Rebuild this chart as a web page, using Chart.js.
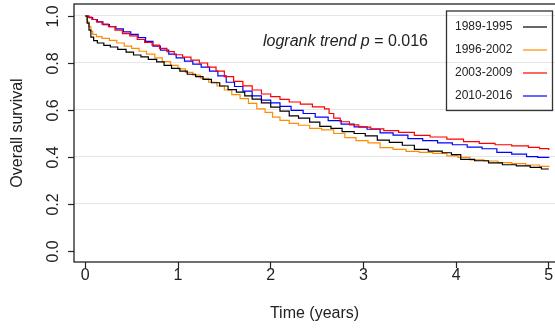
<!DOCTYPE html>
<html>
<head>
<meta charset="utf-8">
<script src="https://cdn.jsdelivr.net/npm/chart.js@4.4.1/dist/chart.umd.min.js"></script>
<style>
  html, body { margin: 0; padding: 0; background: #fff; overflow: hidden; }
  canvas { display: block; }
</style>
</head>
<body>
<canvas id="survChart" width="555" height="328"></canvas>
<script>
// Kaplan-Meier estimates by diagnosis period (time in years, survival proportion)
const periods = ['1989-1995', '1996-2002', '2003-2009', '2010-2016'];
const periodColors = ['#000000', '#ff8c00', '#ff0000', '#0000ff'];

const time8995 = [0, 0.02, 0.04, 0.06, 0.09, 0.13, 0.2, 0.27, 0.35, 0.44, 0.52, 0.6, 0.68, 0.77, 0.85, 0.93,
  1.02, 1.1, 1.19, 1.27, 1.36, 1.45, 1.54, 1.63, 1.72, 1.8, 1.9, 2.0, 2.1, 2.2, 2.3, 2.42, 2.53, 2.65, 2.77,
  2.9, 3.02, 3.15, 3.28, 3.42, 3.55, 3.7, 3.85, 3.95, 4.05, 4.2, 4.35, 4.5, 4.65, 4.8, 4.92, 5.0];
const surv8995 = [1, 0.97, 0.94, 0.91, 0.895, 0.885, 0.875, 0.868, 0.858, 0.846, 0.834, 0.826, 0.815, 0.805, 0.79, 0.777,
  0.765, 0.752, 0.742, 0.73, 0.716, 0.702, 0.687, 0.676, 0.66, 0.646, 0.63, 0.612, 0.595, 0.575, 0.565, 0.548, 0.53, 0.522, 0.508,
  0.5, 0.49, 0.472, 0.462, 0.45, 0.432, 0.425, 0.418, 0.41, 0.39, 0.384, 0.375, 0.367, 0.362, 0.356, 0.349, 0.349];

const time9602 = [0, 0.02, 0.04, 0.06, 0.08, 0.12, 0.18, 0.26, 0.34, 0.42, 0.5, 0.58, 0.66, 0.75, 0.83, 0.92,
  1.0, 1.08, 1.16, 1.24, 1.33, 1.42, 1.5, 1.58, 1.67, 1.76, 1.85, 1.94, 2.02, 2.1, 2.2, 2.3, 2.42, 2.55, 2.68,
  2.8, 2.92, 3.05, 3.18, 3.32, 3.46, 3.6, 3.75, 3.9, 4.02, 4.15, 4.3, 4.45, 4.6, 4.75, 4.9, 5.0];
const surv9602 = [1, 0.975, 0.955, 0.935, 0.922, 0.912, 0.905, 0.896, 0.885, 0.872, 0.862, 0.85, 0.838, 0.822, 0.806, 0.79,
  0.775, 0.76, 0.748, 0.735, 0.718, 0.702, 0.685, 0.665, 0.648, 0.628, 0.605, 0.59, 0.57, 0.556, 0.543, 0.535, 0.522, 0.515, 0.5,
  0.482, 0.47, 0.46, 0.44, 0.432, 0.424, 0.42, 0.415, 0.405, 0.398, 0.388, 0.383, 0.376, 0.372, 0.366, 0.36, 0.356];

const time0309 = [0, 0.03, 0.07, 0.12, 0.18, 0.25, 0.32, 0.4, 0.48, 0.56, 0.64, 0.72, 0.8, 0.88, 0.96,
  1.05, 1.14, 1.23, 1.32, 1.41, 1.5, 1.6, 1.7, 1.8, 1.9, 2.0, 2.1, 2.2, 2.32, 2.45, 2.58, 2.63, 2.68, 2.75,
  2.85, 2.95, 3.08, 3.22, 3.38, 3.55, 3.72, 3.9, 4.08, 4.25, 4.42, 4.6, 4.78, 4.9, 5.0];
const surv0309 = [1, 0.995, 0.985, 0.975, 0.965, 0.955, 0.94, 0.925, 0.915, 0.9, 0.888, 0.876, 0.862, 0.848, 0.835,
  0.825, 0.812, 0.8, 0.782, 0.765, 0.742, 0.722, 0.703, 0.685, 0.668, 0.657, 0.645, 0.634, 0.625, 0.613, 0.605, 0.585, 0.565, 0.55,
  0.537, 0.527, 0.52, 0.512, 0.505, 0.492, 0.485, 0.476, 0.465, 0.458, 0.452, 0.447, 0.441, 0.436, 0.43];

const time1016 = [0, 0.04, 0.08, 0.13, 0.19, 0.26, 0.33, 0.41, 0.49, 0.57, 0.65, 0.73, 0.81, 0.9, 0.98,
  1.07, 1.16, 1.25, 1.34, 1.43, 1.52, 1.61, 1.7, 1.8, 1.9, 2.0, 2.1, 2.22, 2.35, 2.48, 2.62, 2.76,
  2.9, 3.04, 3.18, 3.32, 3.48, 3.64, 3.8, 3.96, 4.12, 4.28, 4.44, 4.6, 4.76, 4.88, 5.0];
const surv1016 = [1, 0.993, 0.985, 0.975, 0.963, 0.955, 0.945, 0.932, 0.922, 0.908, 0.892, 0.872, 0.855, 0.838, 0.822,
  0.808, 0.795, 0.782, 0.765, 0.745, 0.718, 0.7, 0.68, 0.66, 0.642, 0.63, 0.615, 0.598, 0.585, 0.57, 0.555, 0.54,
  0.528, 0.518, 0.503, 0.493, 0.478, 0.47, 0.46, 0.452, 0.442, 0.435, 0.42, 0.412, 0.402, 0.398, 0.397];

const xTicks = [0, 1, 2, 3, 4, 5];
const yTicks = [0, 0.2, 0.4, 0.6, 0.8, 1.0];

const FONT = "'Liberation Sans', Arial, sans-serif";
const INK = '#222222';

const toPoints = (times, surv) => times.map((t, i) => ({ x: t, y: surv[i] }));
const seriesPoints = [
  toPoints(time8995, surv8995),
  toPoints(time9602, surv9602),
  toPoints(time0309, surv0309),
  toPoints(time1016, surv1016)
];

// box around the plot region (right edge runs off the canvas)
const frame = {
  id: 'frame',
  afterDraw(chart) {
    const { ctx, chartArea: a } = chart;
    ctx.save();
    ctx.strokeStyle = INK;
    ctx.lineWidth = 1.3;
    ctx.strokeRect(a.left, a.top, a.right - a.left + 10, a.bottom - a.top);
    ctx.restore();
  }
};

// y tick marks plus rotated tick labels, as base graphics draws them
const yLabels = {
  id: 'yLabels',
  afterDraw(chart) {
    const { ctx, scales: { y }, chartArea: a } = chart;
    ctx.save();
    ctx.fillStyle = INK;
    ctx.strokeStyle = INK;
    ctx.lineWidth = 1.2;
    ctx.font = `16px ${FONT}`;
    ctx.textAlign = 'center';
    ctx.textBaseline = 'middle';
    yTicks.forEach(v => {
      const py = Math.round(y.getPixelForValue(v)) + 0.5;
      ctx.beginPath();
      ctx.moveTo(a.left - 6, py);
      ctx.lineTo(a.left, py);
      ctx.stroke();
      ctx.save();
      ctx.translate(54, py);
      ctx.rotate(-Math.PI / 2);
      ctx.fillText(v.toFixed(1), 0, 0);
      ctx.restore();
    });
    ctx.restore();
  }
};

// logrank note and boxed legend
const notes = {
  id: 'notes',
  afterDraw(chart) {
    const { ctx } = chart;
    ctx.save();
    ctx.fillStyle = INK;
    ctx.textBaseline = 'middle';
    ctx.textAlign = 'left';
    ctx.font = `italic 16px ${FONT}`;
    const part1 = 'logrank trend p';
    ctx.fillText(part1, 263, 42);
    const w1 = ctx.measureText(part1).width;
    ctx.font = `16px ${FONT}`;
    ctx.fillText(' = 0.016', 263 + w1, 42);

    ctx.strokeStyle = '#333333';
    ctx.lineWidth = 1.3;
    ctx.strokeRect(446.5, 11, 106, 99.5);
    ctx.font = `12px ${FONT}`;
    periods.forEach((label, i) => {
      const yy = 27 + i * 23;
      ctx.fillStyle = INK;
      ctx.fillText(label, 455, yy);
      ctx.strokeStyle = periodColors[i];
      ctx.lineWidth = 1.2;
      ctx.beginPath();
      ctx.moveTo(523, yy);
      ctx.lineTo(547, yy);
      ctx.stroke();
    });
    ctx.restore();
  }
};

new Chart(document.getElementById('survChart').getContext('2d'), {
  type: 'line',
  data: {
    datasets: periods.map((label, i) => ({
      label,
      data: seriesPoints[i],
      borderColor: periodColors[i],
      borderWidth: 1.2,
      pointRadius: 0,
      stepped: 'before',
      fill: false
    }))
  },
  options: {
    responsive: false,
    animation: false,
    layout: { padding: { top: 4, right: 0, left: 0, bottom: 0 } },
    plugins: {
      legend: { display: false },
      tooltip: { enabled: false }
    },
    scales: {
      x: {
        type: 'linear',
        min: -0.122,
        max: 5.067,
        afterBuildTicks: (scale) => { scale.ticks = xTicks.map(v => ({ value: v })); },
        afterFit: (scale) => { scale.height = 66; },
        border: { display: false },
        grid: { drawOnChartArea: false, tickLength: 6, tickColor: INK, tickWidth: 1.2 },
        ticks: { color: INK, font: { family: FONT, size: 16 }, padding: -2, maxRotation: 0 },
        title: {
          display: true,
          text: 'Time (years)',
          color: INK,
          font: { family: FONT, size: 16 },
          padding: { top: 0, bottom: 5 }
        }
      },
      y: {
        type: 'linear',
        min: -0.0468,
        max: 1.051,
        afterBuildTicks: (scale) => { scale.ticks = yTicks.map(v => ({ value: v })); },
        afterFit: (scale) => { scale.width = 74; },
        border: { display: false },
        grid: {
          color: (c) => (c.tick && c.tick.value === 0 ? 'rgba(0,0,0,0)' : '#e6e6e6'),
          lineWidth: 1,
          drawTicks: false
        },
        ticks: { display: false },
        title: {
          display: true,
          text: 'Overall survival',
          color: INK,
          font: { family: FONT, size: 16 },
          padding: { top: 8, bottom: 0 }
        }
      }
    }
  },
  plugins: [frame, yLabels, notes]
});
</script>
</body>
</html>
